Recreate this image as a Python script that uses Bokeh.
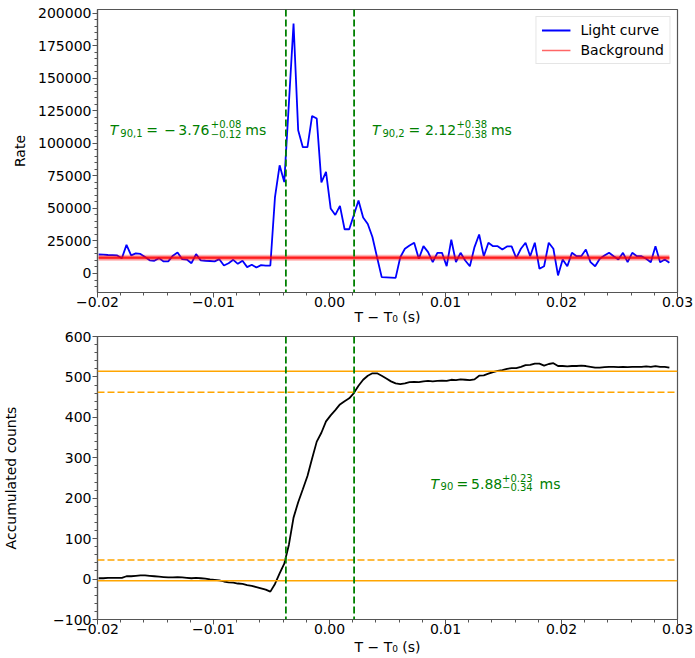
import numpy as np
from bokeh.plotting import figure
from bokeh.layouts import column
from bokeh.models import (Span, Label, Legend, LegendItem, Range1d,
                          SingleIntervalTicker, CustomJSTickFormatter)
from bokeh.embed import file_html
from bokeh.resources import INLINE

# ---------------- data ----------------
BIN_WIDTH = 0.0004
T_FIRST = -0.0199

rate = [
    14600, 14500, 14200, 14100, 13900, 11700, 22000, 13900, 15500, 15000,
    12600, 10100, 9800, 11800, 9300, 9300, 13700, 16200, 11000, 10700,
    7900, 14900, 10100, 9800, 9600, 9300, 11000, 6100, 7900, 10500,
    7400, 9800, 4900, 6700, 4600, 6400, 6100, 6100,
    58700, 83100, 70200, 131000, 192000, 110000, 97000, 97000, 121000, 119000,
    70000, 78000, 50000, 45000, 52000, 34000, 34000, 45000, 56000, 43000,
    38000, 28000, 12500, -2800, -3000, -3200, -3400,
    12500, 19000, 21500, 23600, 11300, 21000, 16400, 8700, 15900, 15900,
    5600, 25900, 8700, 15900, 10000, 5600, 20300, 30000, 13300, 23600,
    21000, 21000, 18400, 20800, 20800, 11800, 19000, 23600, 13300, 23600,
    3600, 5600, 23600, 19000, -1500, 10800, 5600, 15900, 13300, 13300,
    18400, 8700, 5600, 11300, 13800, 15900, 13300, 10800, 15900, 8700,
    15900, 13300, 13300, 11300, 8700, 21000, 8700, 10800, 8200,
]

accumulated = [
    2, 2, 3, 3, 3, 3, 7, 7, 8, 9,
    9, 8, 7, 6, 5, 4, 4, 5, 4, 3,
    2, 3, 2, 1, -1, -2, -3, -6, -8, -9,
    -11, -12, -15, -17, -20, -23, -26, -31,
    -12, 14, 38, 85, 152, 190, 222, 255, 298, 340,
    362, 390, 405, 418, 432, 440, 447, 460, 478, 493,
    503, 509, 509, 503, 496, 489, 484,
    482, 484, 487, 488, 487, 489, 490, 489, 490, 491,
    490, 493, 492, 494, 493, 492, 494, 503, 504, 508,
    512, 515, 517, 520, 522, 522, 525, 529, 530, 533,
    533, 528, 532, 534, 527, 527, 526, 527, 527, 528,
    527, 525, 523, 523, 524, 525, 525, 524, 525, 524,
    525, 525, 525, 526, 525, 527, 525, 525, 523,
]

background_level = 12000
t90_start = -0.00376
t90_end = 0.00212
level_low = -4
level_high = 514
level_5 = 47
level_95 = 462

time = T_FIRST + BIN_WIDTH * np.arange(len(rate))

# ---------------- styling helpers ----------------
FONT = "DejaVu Sans"
AXC = "#555555"
GREEN = "#008000"
ORANGE = "#FFA500"

x_fmt = CustomJSTickFormatter(code="""
const v = Math.abs(tick) < 1e-9 ? 0 : tick;
return (v < 0 ? '\u2212' : '') + Math.abs(v).toFixed(2);
""")
y_fmt_code = """
const v = Math.abs(tick) < 1e-9 ? 0 : tick;
return (v < 0 ? '\u2212' : '') + Math.abs(v).toFixed(0);
"""


def make_fig(y_range, ylabel, y_interval, ylabel_standoff, border_top,
             xlabel_standoff):
    p = figure(frame_width=580, frame_height=283,
               x_range=Range1d(-0.02, 0.03), y_range=y_range,
               output_backend="svg", toolbar_location=None,
               min_border_left=97, min_border_right=18,
               min_border_top=border_top, min_border_bottom=20)
    p.xgrid.visible = False
    p.ygrid.visible = False
    p.outline_line_color = AXC
    p.outline_line_width = 1.2
    p.background_fill_color = "white"
    p.border_fill_color = "white"
    for ax in (p.xaxis[0], p.yaxis[0]):
        ax.axis_line_color = AXC
        ax.axis_line_width = 1.2
        ax.major_tick_line_color = AXC
        ax.minor_tick_line_color = AXC
        ax.major_tick_out = 5
        ax.major_tick_in = 0
        ax.minor_tick_out = 3
        ax.minor_tick_in = 0
        ax.major_label_text_font = FONT
        ax.major_label_text_font_size = "14px"
        ax.major_label_text_color = "black"
        ax.axis_label_text_font = FONT
        ax.axis_label_text_font_size = "14px"
        ax.axis_label_text_font_style = "normal"
        ax.axis_label_text_color = "black"
    p.xaxis.major_label_standoff = -1
    p.yaxis.major_label_standoff = 1
    p.xaxis.ticker = SingleIntervalTicker(interval=0.01, num_minor_ticks=5)
    p.xaxis.formatter = x_fmt
    p.xaxis.axis_label = "T \u2212 T\u2080 (s)"
    p.xaxis.axis_label_standoff = xlabel_standoff
    p.yaxis.ticker = SingleIntervalTicker(interval=y_interval, num_minor_ticks=5)
    p.yaxis.formatter = CustomJSTickFormatter(code=y_fmt_code)
    p.yaxis.axis_label = ylabel
    p.yaxis.axis_label_standoff = ylabel_standoff
    return p


def add_t90_text(p, x, y, pieces):
    for text, dx, dy, size, italic in pieces:
        p.add_layout(Label(x=x, y=y, x_offset=dx, y_offset=dy, text=text,
                           text_font=FONT, text_font_size=f"{size}px",
                           text_font_style="italic" if italic else "normal",
                           text_color=GREEN, text_baseline="alphabetic",
                           text_align="left"))


# ---------------- top panel: light curve ----------------
p1 = make_fig(Range1d(-14600, 202800), "Rate", 25000, 7, 9, -1)

lc = p1.line(time, rate, line_color="blue", line_width=1.8)
bg_t = [time[0], time[-1]]
bg_v = [background_level, background_level]
p1.line(bg_t, bg_v, line_color="red", line_width=6, line_alpha=0.3)
p1.line(bg_t, bg_v, line_color="red", line_width=3, line_alpha=0.6)
bg = p1.line(bg_t, bg_v, line_color="red", line_width=1.5, line_alpha=0.6)

for loc in (t90_start, t90_end):
    p1.add_layout(Span(location=loc, dimension="height", line_color=GREEN,
                       line_dash="7 3", line_width=1.8))

legend = Legend(items=[LegendItem(label="Light curve", renderers=[lc]),
                       LegendItem(label="Background", renderers=[bg])],
                location="top_right")
legend.label_text_font = FONT
legend.label_text_font_size = "14px"
legend.label_text_color = "black"
legend.glyph_width = 29
legend.glyph_height = 16
legend.label_standoff = 10
legend.label_height = 16
legend.padding = 5
legend.spacing = 4
legend.margin = 7
legend.border_line_color = "#cccccc"
legend.border_line_width = 1
legend.background_fill_alpha = 0.85
p1.add_layout(legend)

add_t90_text(p1, -0.01894, 110000, [
    ("T", 0, 0, 14, True),
    ("90,1", 10.5, -2.5, 10, False),
    ("=", 36.5, 0, 14, False),
    ("\u2212", 54.5, 0, 14, False),
    ("3.76", 68.5, 0, 14, False),
    ("+0.08", 101, 6, 10, False),
    ("\u22120.12", 101, -3.5, 10, False),
    ("ms", 135.5, 0, 14, False),
])
add_t90_text(p1, 0.00366, 110000, [
    ("T", 0, 0, 14, True),
    ("90,2", 10.5, -2.5, 10, False),
    ("=", 36.5, 0, 14, False),
    ("2.12", 53, 0, 14, False),
    ("+0.38", 84.5, 6, 10, False),
    ("\u22120.38", 84.5, -3.5, 10, False),
    ("ms", 119, 0, 14, False),
])

# ---------------- bottom panel: accumulated counts ----------------
p2 = make_fig(Range1d(-100, 600), "Accumulated counts", 100, 31, 9, 2)

for lev, dash in ((level_high, "solid"), (level_low, "solid"),
                  (level_95, "7 3"), (level_5, "7 3")):
    p2.add_layout(Span(location=lev, dimension="width", line_color=ORANGE,
                       line_dash=dash, line_width=1.5))
for loc in (t90_start, t90_end):
    p2.add_layout(Span(location=loc, dimension="height", line_color=GREEN,
                       line_dash="7 3", line_width=1.8))

p2.line(time, accumulated, line_color="black", line_width=1.8)

add_t90_text(p2, 0.00871, 236, [
    ("T", 0, 0, 14, True),
    ("90", 10, -2.5, 10, False),
    ("=", 26, 0, 14, False),
    ("5.88", 40.5, 0, 14, False),
    ("+0.23", 71.5, 6, 10, False),
    ("\u22120.34", 71.5, -3.5, 10, False),
    ("ms", 109, 0, 14, False),
])

layout = column(p1, p2, spacing=0)
open("out.html", "w").write(file_html(layout, INLINE))
